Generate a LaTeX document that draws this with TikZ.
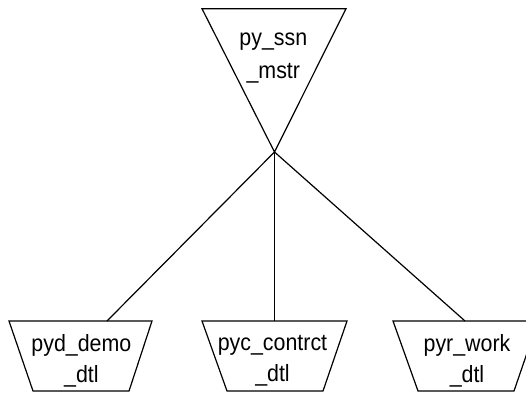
\documentclass[tikz,border=0pt]{standalone}
\usepackage{fontspec}
\setmainfont{Liberation Sans}[FakeStretch=0.91]
\begin{document}
\begin{tikzpicture}[x=1pt,y=-1pt,
  shapeline/.style={draw=black,line width=1.2pt,line join=miter},
  conn/.style={draw=black,line width=1.2pt},
  lbl/.style={align=center,inner sep=0pt,font=\fontsize{23.5}{31.5}\selectfont},
  toplbl/.style={lbl,font=\fontsize{23.5}{33}\selectfont}]
\useasboundingbox (0,0) rectangle (526,393);
\begin{scope}
\clip (0,0) rectangle (526,393);
% master triangle
\draw[shapeline] (202,8.7) -- (346,8.7) -- (274.5,152) -- cycle;
\coordinate (apex) at (274.5,152);
\node[toplbl] (mstr) at (273.3,58) {py\_ssn\\\_mstr};
% left trapezoid
\draw[shapeline] (9,321) -- (152,321) -- (129,391) -- (33,391) -- cycle;
\coordinate (t1) at (107,321);
\node[lbl] (demo) at (81.4,360.7) {pyd\_demo\\\_dtl};
% middle trapezoid
\draw[shapeline] (202,321) -- (347,321) -- (323,391) -- (227,391) -- cycle;
\coordinate (t2) at (274.5,321);
\node[lbl] (contrct) at (272.5,360.7) {pyc\_contrct\\\_dtl};
% right trapezoid
\draw[shapeline] (393,321) -- (538,321) -- (514,391) -- (418,391) -- cycle;
\coordinate (t3) at (465,321);
\node[lbl] (work) at (467,360.7) {pyr\_work\\\_dtl};
% connectors
\draw[conn] (apex) -- (t1);
\draw[conn] (apex) -- (t2);
\draw[conn] (apex) -- (t3);
\end{scope}
\end{tikzpicture}
\end{document}
